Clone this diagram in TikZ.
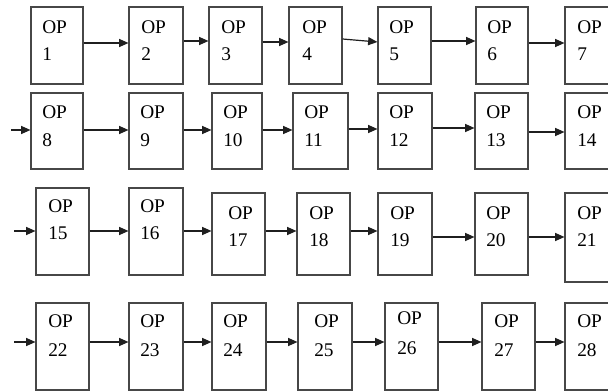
\documentclass[tikz,border=0pt]{standalone}
\usepackage{fontspec}
\setmainfont{Liberation Serif}
\usetikzlibrary{fit,arrows.meta}

% One operation cell: box, "OP" caption and its number.
% #1 number, #2..#5 box corners, #6 text x, #7 OP baseline, #8 number baseline
\newcommand\opcell[8]{%
  \node[opbox, fit={(#2,#3) (#4,#5)}] (b#1) {};
  \node[oplabel] (t#1) at (#6,#7) {OP};
  \node[oplabel] (n#1) at (#6,#8) {#1};
}

\tikzset{
  opbox/.style={draw=black!72, line width=0.8pt, inner sep=0pt},
  oplabel/.style={anchor=base west, inner sep=0pt, font=\fontsize{14.5}{16}\selectfont},
  flow/.style={draw=black!88, line width=0.9pt, -{Triangle[length=7pt,width=6pt]}}
}

\begin{document}
\begin{tikzpicture}[x=0.75pt, y=-0.75pt]
\useasboundingbox (0,0) rectangle (608,392);
\clip (0,0) rectangle (608,392);
\fill[white] (0,0) rectangle (608,392);

% row 1
\opcell{1}{31}{7}{83}{84}{42}{34}{61}
\opcell{2}{129}{7}{183}{84}{141}{34}{61}
\opcell{3}{209}{7}{262}{84}{221}{34}{61}
\opcell{4}{289}{7}{342}{84}{302}{34}{61}
\opcell{5}{378}{7}{431}{84}{389}{34}{61}
\opcell{6}{476}{7}{528}{84}{487}{34}{61}
\opcell{7}{565}{7}{618}{84}{577}{34}{61}

% row 2
\opcell{8}{31}{93}{83}{169}{42}{119}{147}
\opcell{9}{129}{93}{183}{169}{140}{119}{147}
\opcell{10}{212}{93}{262}{169}{223}{119}{147}
\opcell{11}{293}{93}{348}{169}{304}{119}{147}
\opcell{12}{378}{93}{432}{169}{389}{119}{147}
\opcell{13}{475}{93}{528}{169}{486}{119}{147}
\opcell{14}{565}{93}{618}{169}{577}{119}{147}

% row 3
\opcell{15}{36}{188}{89}{275}{48}{213}{240}
\opcell{16}{129}{188}{183}{275}{140}{213}{240}
\opcell{17}{212}{193}{265}{275}{228}{220}{247}
\opcell{18}{297}{193}{350}{275}{309}{220}{247}
\opcell{19}{378}{193}{432}{275}{390}{220}{247}
\opcell{20}{475}{193}{528}{275}{486}{220}{247}
\opcell{21}{565}{193}{618}{282}{577}{220}{247}

% row 4
\opcell{22}{36}{303}{89}{390}{48}{328}{357}
\opcell{23}{129}{303}{183}{390}{140}{328}{357}
\opcell{24}{212}{303}{266}{390}{223}{328}{357}
\opcell{25}{298}{303}{352}{390}{314}{328}{357}
\opcell{26}{385}{303}{438}{390}{397}{325}{355}
\opcell{27}{482}{303}{535}{390}{494}{328}{357}
\opcell{28}{565}{303}{618}{390}{577}{328}{357}

% free ends of the incoming connectors
\coordinate (in8)  at (11,130);
\coordinate (in15) at (14,231);
\coordinate (in22) at (14,342);

% row 1 connectors
\draw[flow] (b1.east |- 0,43) -- (b2.west |- 0,43);
\draw[flow] (b2.east |- 0,41) -- (b3.west |- 0,41);
\draw[flow] (b3.east |- 0,42) -- (b4.west |- 0,42);
\draw[flow] (b4.east |- 0,39) -- (b5.west |- 0,42);
\draw[flow] (b5.east |- 0,41) -- (b6.west |- 0,41);
\draw[flow] (b6.east |- 0,43) -- (b7.west |- 0,43);

% row 2 connectors
\draw[flow] (in8) -- (b8.west |- in8);
\draw[flow] (b8.east |- 0,130) -- (b9.west |- 0,130);
\draw[flow] (b9.east |- 0,130) -- (b10.west |- 0,130);
\draw[flow] (b10.east |- 0,130) -- (b11.west |- 0,130);
\draw[flow] (b11.east |- 0,129) -- (b12.west |- 0,129);
\draw[flow] (b12.east |- 0,128) -- (b13.west |- 0,128);
\draw[flow] (b13.east |- 0,132) -- (b14.west |- 0,132);

% row 3 connectors
\draw[flow] (in15) -- (b15.west |- in15);
\draw[flow] (b15.east |- 0,231) -- (b16.west |- 0,231);
\draw[flow] (b16.east |- 0,231) -- (b17.west |- 0,231);
\draw[flow] (b17.east |- 0,231) -- (b18.west |- 0,231);
\draw[flow] (b18.east |- 0,231) -- (b19.west |- 0,231);
\draw[flow] (b19.east |- 0,237) -- (b20.west |- 0,237);
\draw[flow] (b20.east |- 0,237) -- (b21.west |- 0,237);

% row 4 connectors
\draw[flow] (in22) -- (b22.west |- in22);
\draw[flow] (b22.east |- 0,342) -- (b23.west |- 0,342);
\draw[flow] (b23.east |- 0,342) -- (b24.west |- 0,342);
\draw[flow] (b24.east |- 0,342) -- (b25.west |- 0,342);
\draw[flow] (b25.east |- 0,342) -- (b26.west |- 0,342);
\draw[flow] (b26.east |- 0,342) -- (b27.west |- 0,342);
\draw[flow] (b27.east |- 0,342) -- (b28.west |- 0,342);
\end{tikzpicture}
\end{document}
